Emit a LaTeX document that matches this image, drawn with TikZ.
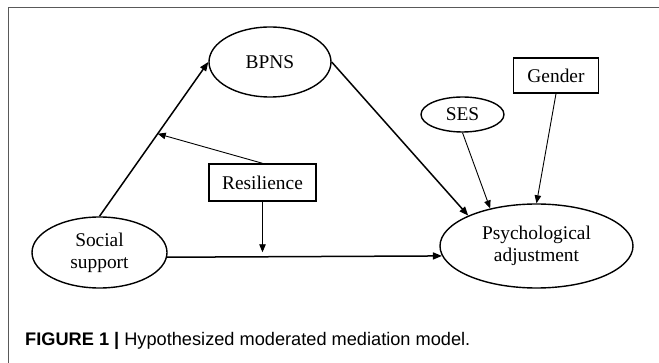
\documentclass[tikz,border=0pt]{standalone}
\usepackage{fontspec}
\setmainfont{Liberation Serif}
\newfontfamily\capfont{Liberation Sans}
\usetikzlibrary{shapes.geometric,arrows.meta}
\tikzset{
  lbl/.style={font=\fontsize{19.4}{22}\selectfont, align=center, inner sep=0pt},
  ell/.style={lbl, ellipse, draw, line width=1.4pt},
  boxn/.style={lbl, rectangle, draw, line width=1.4pt},
  thickarr/.style={line width=1.5pt, -{Triangle[length=9pt,width=7pt]}},
  thinarr/.style={line width=0.9pt, -{Triangle[length=8pt,width=6.5pt]}},
}
\begin{document}
\begin{tikzpicture}[x=1pt,y=-1pt]
\useasboundingbox (0,0) rectangle (659,363);
\draw[line width=1pt, color=black!65] (659,8) -- (8,8) -- (8,363);
\node[ell, minimum width=122pt, minimum height=70pt] (bpns) at (270,62) {BPNS};
\node[boxn, minimum width=85pt, minimum height=35pt] (gen) at (556,75.5) {Gender};
\node[ell, minimum width=83pt, minimum height=35pt] (ses) at (462.5,114.5) {SES};
\node[boxn, minimum width=107pt, minimum height=37pt] (res) at (262.5,182.5) {Resilience};
\node[ell, minimum width=135pt, minimum height=71pt] (ss) at (99.5,252.5) {Social\\support};
\node[ell, minimum width=193pt, minimum height=84pt] (psy) at (536.5,246) {Psychological\\adjustment};
\draw[thickarr] (ss.north) -- coordinate[pos=0.535] (m1) (bpns.west);
\draw[thickarr] (ss.-4) -- coordinate[pos=0.348] (m2) (psy.186.7);
\draw[thickarr] (bpns.east) -- (psy.156);
\draw[thinarr] (res.north) -- (m1);
\draw[thinarr, shorten >=4.5pt] (res.south) -- (res.south |- m2);
\draw[thinarr] (ses.south) -- (psy.141);
\draw[thinarr] (gen.south) -- (psy.north);
\node[anchor=base west, inner sep=0pt, font=\capfont\fontsize{18.2}{20}\selectfont] (cap) at (25,346) {\textbf{FIGURE 1 |} Hypothesized moderated mediation model.};
\end{tikzpicture}
\end{document}
